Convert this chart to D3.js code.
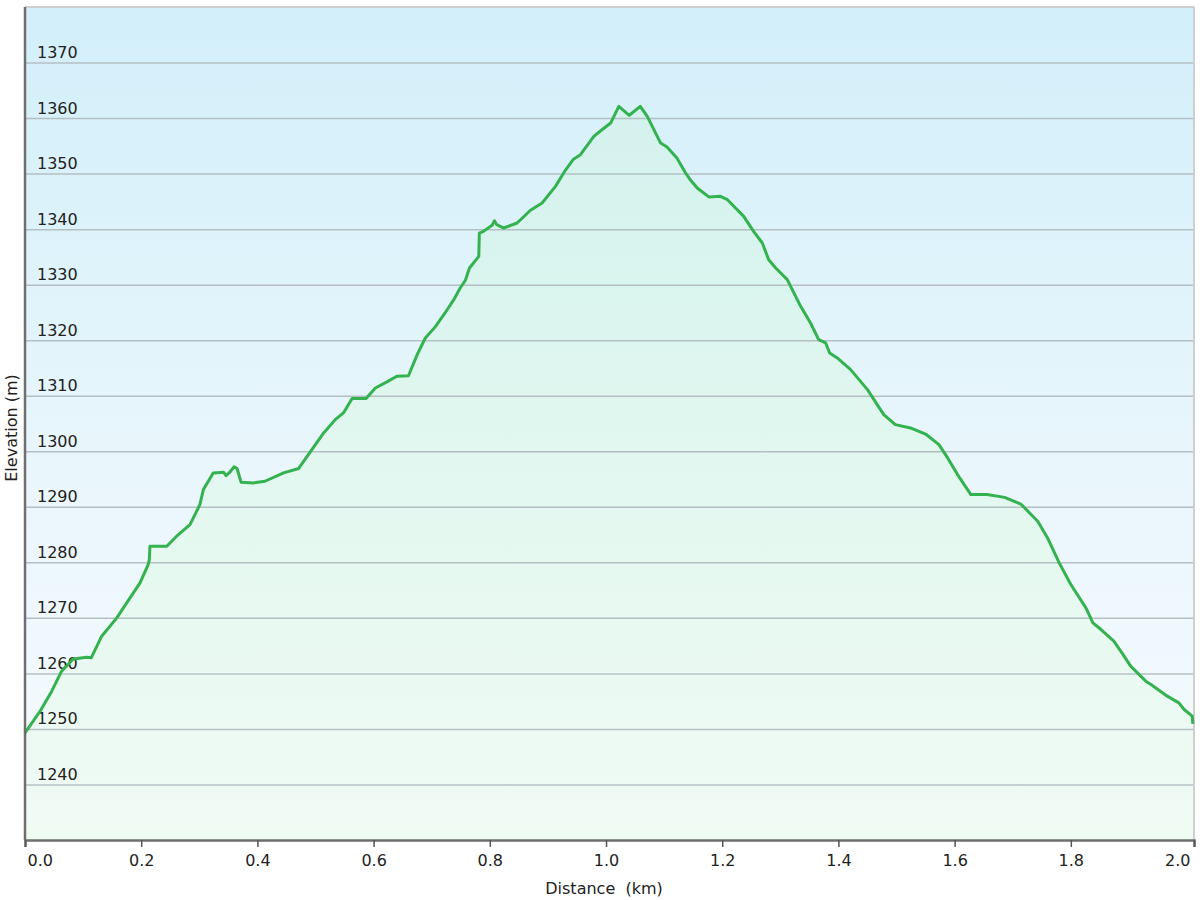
<!DOCTYPE html>
<html><head><meta charset="utf-8">
<script src="https://cdn.jsdelivr.net/npm/d3@7/dist/d3.min.js"></script>
<style>
body{margin:0;background:#fff;}
text{font-family:"DejaVu Sans",Verdana,sans-serif;}
</style></head>
<body><svg id="c" width="1200" height="900"></svg>
<script>
// Distance along track (km)
const distances = [0.000,0.026,0.046,0.063,0.083,0.106,0.114,0.132,0.158,0.175,0.198,0.212,0.214,0.215,0.244,0.261,0.284,0.301,0.307,0.324,0.342,0.346,0.353,0.360,0.365,0.372,0.393,0.413,0.445,0.471,0.491,0.514,0.534,0.548,0.563,0.587,0.603,0.623,0.640,0.660,0.675,0.689,0.706,0.723,0.738,0.749,0.758,0.765,0.781,0.782,0.789,0.804,0.808,0.812,0.824,0.847,0.870,0.890,0.913,0.930,0.944,0.956,0.979,0.993,1.008,1.022,1.040,1.059,1.071,1.094,1.105,1.122,1.137,1.145,1.157,1.177,1.197,1.209,1.237,1.254,1.269,1.280,1.292,1.312,1.335,1.352,1.366,1.378,1.385,1.398,1.421,1.450,1.478,1.498,1.524,1.550,1.573,1.588,1.605,1.628,1.656,1.686,1.714,1.743,1.760,1.780,1.800,1.826,1.838,1.852,1.874,1.888,1.903,1.929,1.938,1.966,1.986,1.995,2.009,2.010];
// Elevation (m)
const elevations = [1249.3,1253.2,1256.8,1260.4,1262.6,1262.9,1262.8,1266.7,1270.0,1272.7,1276.3,1279.6,1280.5,1282.9,1282.9,1284.7,1286.8,1290.4,1293.1,1296.1,1296.2,1295.6,1296.3,1297.2,1296.9,1294.4,1294.3,1294.6,1296.1,1296.9,1299.9,1303.3,1305.7,1306.9,1309.5,1309.5,1311.4,1312.5,1313.5,1313.6,1317.4,1320.4,1322.4,1324.9,1327.3,1329.4,1330.8,1333.0,1335.1,1339.3,1339.6,1340.7,1341.5,1340.8,1340.2,1341.1,1343.4,1344.7,1347.7,1350.6,1352.6,1353.4,1356.7,1357.9,1359.1,1362.1,1360.5,1362.1,1360.3,1355.5,1354.8,1352.8,1350.1,1348.9,1347.4,1345.8,1345.9,1345.3,1342.3,1339.6,1337.5,1334.5,1333.0,1330.9,1326.1,1323.1,1320.1,1319.5,1317.7,1316.8,1314.7,1311.1,1306.6,1304.8,1304.2,1303.1,1301.2,1298.8,1295.8,1292.2,1292.2,1291.7,1290.5,1287.4,1284.4,1279.9,1276.0,1271.8,1269.1,1267.9,1265.8,1263.7,1261.3,1258.6,1258.0,1255.9,1254.7,1253.5,1252.3,1250.9];
const xTicks = [0,0.2,0.4,0.6,0.8,1.0,1.2,1.4,1.6,1.8];
const yTicks = [1240,1250,1260,1270,1280,1290,1300,1310,1320,1330,1340,1350,1360,1370];
const xMax = 2.012;
const yDomain = [1230,1380];
const xTitle = "Distance  (km)";
const yTitle = "Elevation (m)";

const data = distances.map((d,i)=>({d, e:elevations[i]}));
const L=25, R=1194, T=7, B=840;
const svg = d3.select("#c");
const x = d3.scaleLinear().domain([0,xMax]).range([L,R]);
const y = d3.scaleLinear().domain(yDomain).range([B,T]);

const defs = svg.append("defs");
const bg = defs.append("linearGradient").attr("id","bg").attr("x1",0).attr("y1",0).attr("x2",0).attr("y2",1);
bg.append("stop").attr("offset","0%").attr("stop-color","#d2effa");
bg.append("stop").attr("offset","55%").attr("stop-color","#e9f6fc");
bg.append("stop").attr("offset","100%").attr("stop-color","#f6fbfe");
const ag = defs.append("linearGradient").attr("id","ag").attr("gradientUnits","userSpaceOnUse")
  .attr("x1",0).attr("y1",T).attr("x2",0).attr("y2",B);
ag.append("stop").attr("offset","0%").attr("stop-color","#d0f0ee");
ag.append("stop").attr("offset","50%").attr("stop-color","#e0f7ef");
ag.append("stop").attr("offset","100%").attr("stop-color","#f0fbf4");

svg.append("rect").attr("x",L).attr("y",T).attr("width",R-L).attr("height",B-T).attr("fill","url(#bg)");

svg.append("path").datum(data)
  .attr("d", d3.area().x(p=>x(p.d)).y0(y(yDomain[0])).y1(p=>y(p.e)))
  .attr("fill","url(#ag)");

// grid + y labels
const gy = svg.append("g").attr("transform",`translate(${L},0)`)
  .call(d3.axisRight(y).tickValues(yTicks).tickSize(R-L).tickFormat(d3.format("d")));
gy.select(".domain").remove();
gy.selectAll(".tick line").attr("stroke","#b4bfc4").attr("stroke-width",1.5);
gy.selectAll(".tick text").attr("x",12).attr("dy",-5).attr("text-anchor","start")
  .attr("fill","#222").style("font-size","16px").style("font-family","'DejaVu Sans',Verdana,sans-serif");

// border top/right
svg.append("line").attr("x1",L).attr("x2",R).attr("y1",T).attr("y2",T).attr("stroke","#cfcfcf").attr("stroke-width",2);
svg.append("line").attr("x1",R).attr("x2",R).attr("y1",T).attr("y2",B).attr("stroke","#cfcfcf").attr("stroke-width",2);

svg.append("path").datum(data)
  .attr("d", d3.line().x(p=>x(p.d)).y(p=>y(p.e)))
  .attr("fill","none").attr("stroke","#33b24f").attr("stroke-width",3).attr("stroke-linejoin","round");

// left axis line
svg.append("line").attr("x1",L).attr("x2",L).attr("y1",T).attr("y2",B).attr("stroke","#6f6f6f").attr("stroke-width",2.5);

// x axis
const gx = svg.append("g").attr("transform",`translate(0,${B})`)
  .call(d3.axisBottom(x).tickValues([...xTicks,xMax]).tickSizeOuter(0).tickSize(7).tickPadding(8).tickFormat(d3.format(".1f")));
gx.select(".domain").attr("stroke","#6f6f6f").attr("stroke-width",2.5);
gx.selectAll(".tick line").attr("stroke","#555").attr("stroke-width",1.5);
gx.selectAll(".tick text").attr("fill","#222").style("font-size","16px").style("font-family","'DejaVu Sans',Verdana,sans-serif");
gx.selectAll(".tick text").filter(d=>d===0).attr("text-anchor","start").attr("x",2);
gx.selectAll(".tick text").filter(d=>d===xMax).attr("text-anchor","end").attr("x",-4);

svg.append("text").attr("x",604).attr("y",894).attr("text-anchor","middle")
  .attr("fill","#222").style("font-size","16px").style("white-space","pre").text(xTitle);
svg.append("text").attr("transform","translate(17,428) rotate(-90)").attr("text-anchor","middle")
  .attr("fill","#222").style("font-size","16px").text(yTitle);
</script>
</body></html>
